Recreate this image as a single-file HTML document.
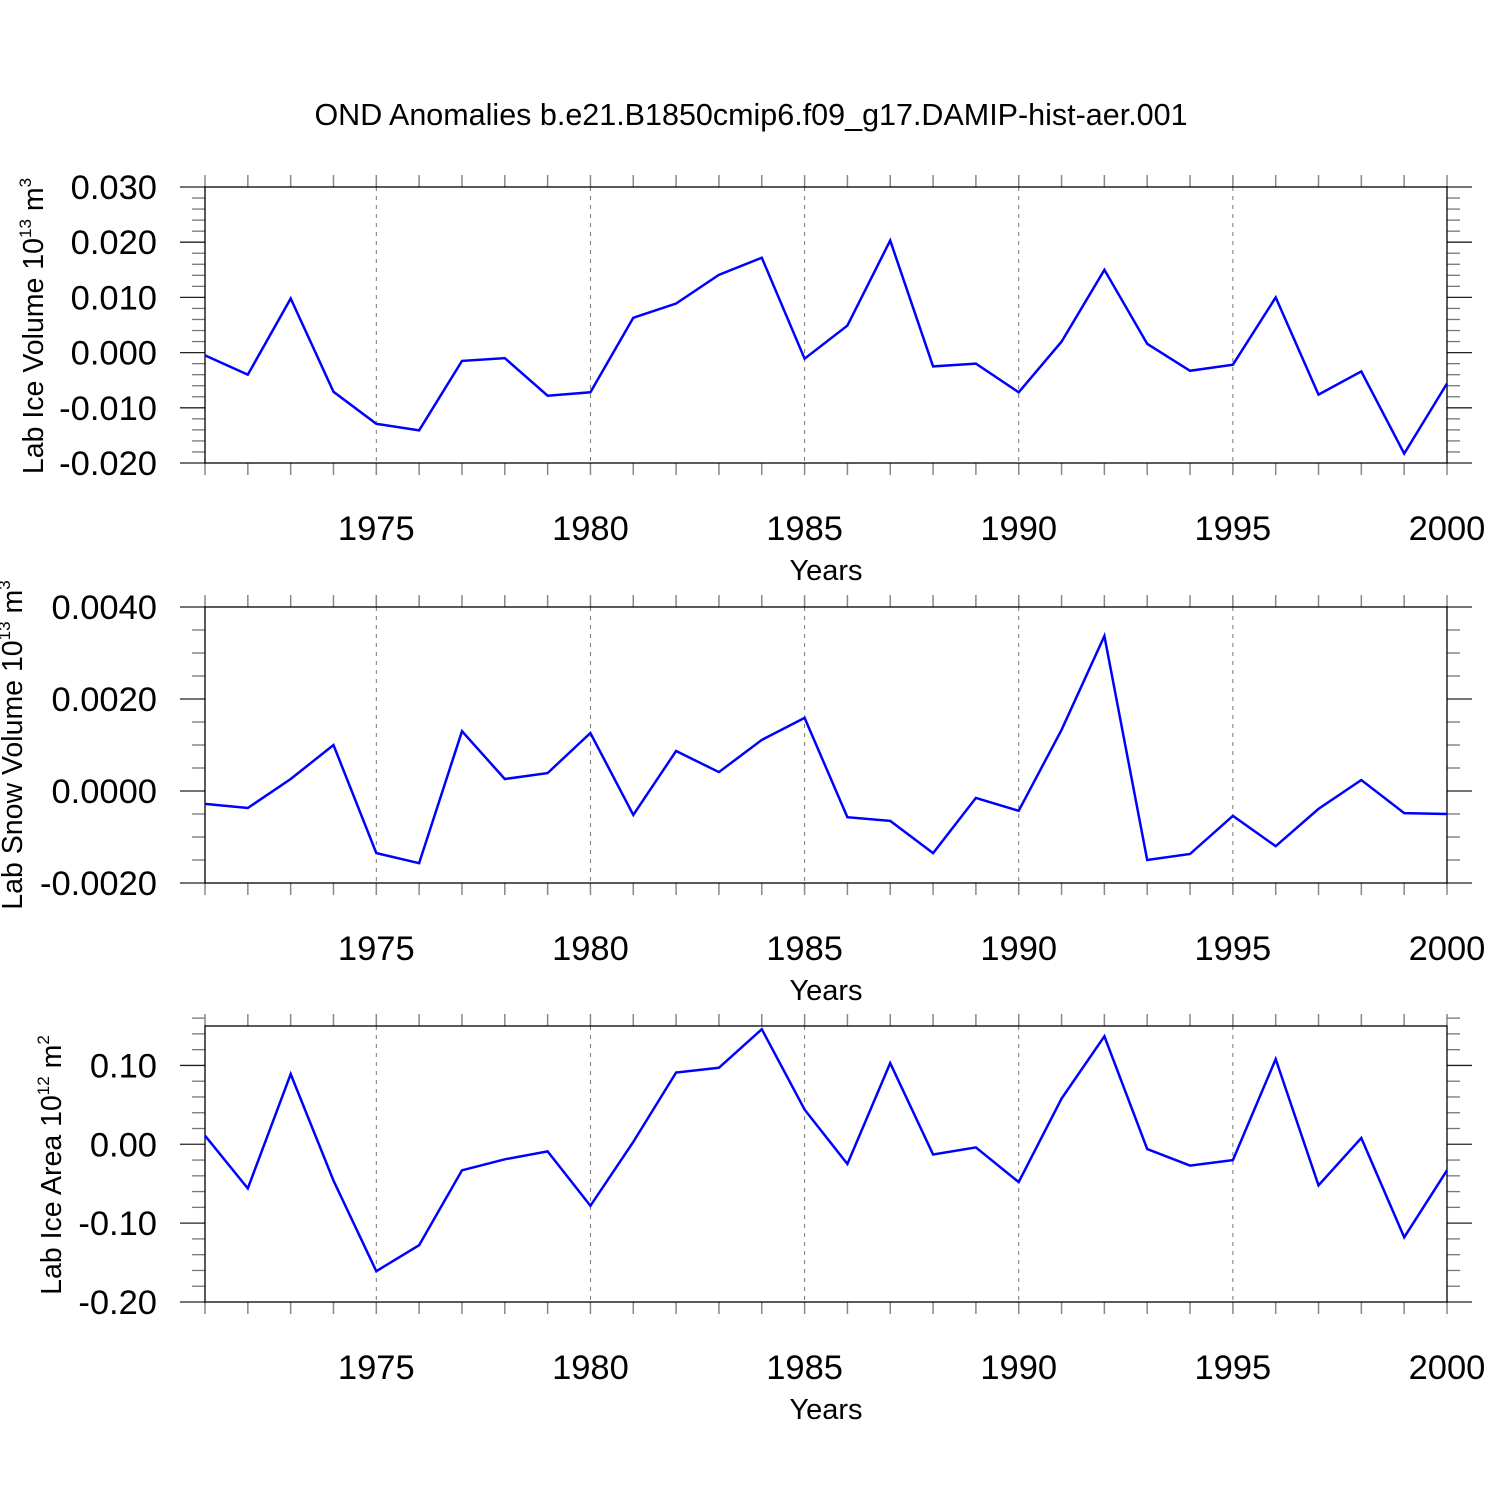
<!DOCTYPE html>
<html><head><meta charset="utf-8"><style>
html,body{margin:0;padding:0;background:#fff;}
svg text{font-family:"Liberation Sans",sans-serif;fill:#000;}
</style></head><body>
<svg id="chart" width="1500" height="1500" xmlns="http://www.w3.org/2000/svg">
<rect width="1500" height="1500" fill="#fff"/>
<text x="751" y="125" font-size="30.5" text-anchor="middle">OND Anomalies b.e21.B1850cmip6.f09_g17.DAMIP-hist-aer.001</text>
</svg>
<script>
const years = [1971,1972,1973,1974,1975,1976,1977,1978,1979,1980,1981,1982,1983,1984,1985,1986,1987,1988,1989,1990,1991,1992,1993,1994,1995,1996,1997,1998,1999,2000];
const iceVolume = [-0.0005,-0.0040,0.0098,-0.0071,-0.0129,-0.0141,-0.0015,-0.0010,-0.0078,-0.0072,0.0063,0.0089,0.0141,0.0172,-0.0011,0.0049,0.0203,-0.0025,-0.0020,-0.0072,0.0020,0.0150,0.0016,-0.0033,-0.0022,0.0100,-0.0076,-0.0034,-0.0183,-0.0056];
const snowVolume = [-0.00028,-0.00037,0.00026,0.0010,-0.00135,-0.00157,0.0013,0.00026,0.00039,0.00126,-0.00052,0.00087,0.00041,0.00111,0.00159,-0.00057,-0.00065,-0.00135,-0.00015,-0.00043,0.00133,0.00337,-0.0015,-0.00137,-0.00054,-0.0012,-0.00039,0.00024,-0.00048,-0.0005];
const iceArea = [0.011,-0.056,0.089,-0.046,-0.161,-0.128,-0.033,-0.019,-0.009,-0.078,0.003,0.091,0.097,0.146,0.044,-0.025,0.103,-0.013,-0.004,-0.048,0.058,0.137,-0.006,-0.027,-0.020,0.108,-0.052,0.008,-0.118,-0.033];
const xTickLabels = ["1975","1980","1985","1990","1995","2000"];
const iceVolTicks = ["-0.020","-0.010","0.000","0.010","0.020","0.030"];
const snowTicks = ["-0.0020","0.0000","0.0020","0.0040"];
const areaTicks = ["-0.20","-0.10","0.00","0.10"];

const NS="http://www.w3.org/2000/svg";
const svg=document.getElementById('chart');
const X0=205,X1=1447;
const xs=y=>X0+(y-1971)/(2000-1971)*(X1-X0);
function el(tag,attrs,parent){const e=document.createElementNS(NS,tag);for(const k in attrs)e.setAttribute(k,attrs[k]);(parent||svg).appendChild(e);return e;}

const panels=[
 {name:'ice-volume',top:187,bot:463,ymin:-0.02,ymax:0.03,major:0.01,minor:0.002,labels:iceVolTicks,data:iceVolume,title:'Lab Ice Volume 10',sup:'13',unit:' m',usup:'3',tx:43,ty:326},
 {name:'snow-volume',top:607,bot:883,ymin:-0.002,ymax:0.004,major:0.002,minor:0.0005,labels:snowTicks,data:snowVolume,title:'Lab Snow Volume 10',sup:'13',unit:' m',usup:'3',tx:22,ty:745},
 {name:'ice-area',top:1026,bot:1302,ymin:-0.2,ymax:0.15,major:0.1,minor:0.02,labels:areaTicks,data:iceArea,title:'Lab Ice Area 10',sup:'12',unit:' m',usup:'2',tx:61,ty:1165}
];
panels.forEach(p=>{
 const g=el('g',{});
 
 
 const ys=v=>p.bot-(v-p.ymin)/(p.ymax-p.ymin)*(p.bot-p.top);
 [1975,1980,1985,1990,1995].forEach(y=>{
  const l=el('line',{x1:xs(y),x2:xs(y),y1:p.top,y2:p.bot,stroke:'#777','stroke-width':1,'stroke-dasharray':'4,5'},g);
  
  
 });
 years.forEach(y=>{
  el('line',{x1:xs(y),x2:xs(y),y1:p.top-12,y2:p.top,stroke:'#888','stroke-width':1.5},g);
  el('line',{x1:xs(y),x2:xs(y),y1:p.bot,y2:p.bot+12,stroke:'#888','stroke-width':1.5},g);
 });
 const nMin=Math.round((p.ymax-p.ymin)/p.minor);
 for(let i=0;i<=nMin;i++){
  const v=p.ymin+i*p.minor;
  const isMaj=Math.abs(v/p.major-Math.round(v/p.major))<1e-6;
  const len=isMaj?25:13;
  const y=ys(v);
  el('line',{x1:X0-len,x2:X0,y1:y,y2:y,stroke:isMaj?'#222':'#777','stroke-width':1.3},g);
  el('line',{x1:X1,x2:X1+len,y1:y,y2:y,stroke:isMaj?'#222':'#777','stroke-width':1.3},g);
 }
 p.labels.forEach((t,i)=>{
  const v=p.ymin+i*p.major;
  const tx=el('text',{x:157,y:ys(v)+12,'font-size':34.5,'text-anchor':'end'},g);
  
  
  tx.textContent=t;
 });
 const f=el('rect',{x:X0,y:p.top,width:X1-X0,height:p.bot-p.top,fill:'none',stroke:'#000','stroke-width':1.3},g);
 
 
 xTickLabels.forEach(t=>{
  const tx=el('text',{x:xs(+t),y:p.bot+77,'font-size':34.5,'text-anchor':'middle'},g);
  
  
  tx.textContent=t;
 });
 const xt=el('text',{x:826,y:p.bot+117,'font-size':29,'text-anchor':'middle'},g);
 
 
 xt.textContent='Years';
 const yt=el('text',{x:0,y:0,'font-size':28.5,'text-anchor':'middle',transform:`translate(${p.tx},${p.ty}) rotate(-90)`},g);
 
 
 yt.innerHTML=`${p.title}<tspan font-size="17" dy="-12">${p.sup}</tspan><tspan dy="12">${p.unit}</tspan><tspan font-size="17" dy="-12">${p.usup}</tspan>`;
 const pts=p.data.map((v,i)=>xs(years[i]).toFixed(1)+','+ys(v).toFixed(1)).join(' ');
 const pl=el('polyline',{points:pts,fill:'none',stroke:'#0000ff','stroke-width':2.5,'stroke-linejoin':'miter'},g);
 
 
});
</script>
</body></html>
